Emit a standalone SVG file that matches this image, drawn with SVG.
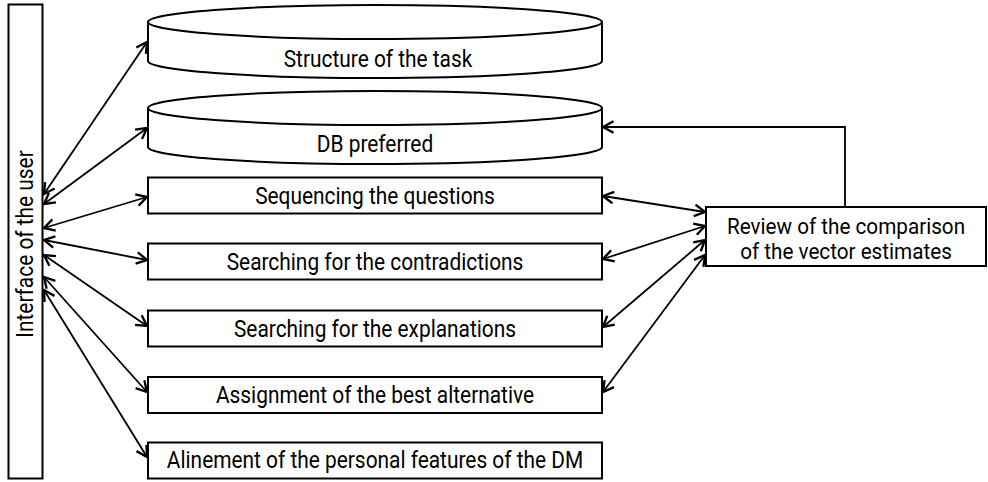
<svg xmlns="http://www.w3.org/2000/svg" width="988" height="482" viewBox="0 0 988 482">
  <style>
    .box { fill: #ffffff; stroke: #000000; stroke-width: 2; }
    .lbl { font-family: Roboto, "Liberation Sans", sans-serif; font-size: 24px; fill: #000000; text-anchor: middle; }
    .lbl2 { font-family: Roboto, "Liberation Sans", sans-serif; font-size: 22px; fill: #000000; text-anchor: middle; }
    .link { fill: none; stroke: #000000; stroke-width: 1.8; }
  </style>
  <defs>
    <marker id="arrow" markerUnits="userSpaceOnUse" markerWidth="14" markerHeight="14" refX="10" refY="6" orient="auto-start-reverse" viewBox="0 0 12 12">
      <path d="M1,1 L10,6 L1,11" fill="none" stroke="#000000" stroke-width="2"/>
    </marker>
  </defs>

  <rect width="988" height="482" fill="#ffffff"/>

  <!-- user interface column; labels are narrowed horizontally for a condensed face -->
  <g id="user-interface">
    <rect class="box" x="8.5" y="4.5" width="34" height="474"/>
    <text class="lbl" transform="translate(33,244) rotate(-90) scale(0.87,1)">Interface of the user</text>
  </g>

  <!-- data stores -->
  <g id="task-structure">
    <path class="box" d="M148,22 A227,17 0 0 1 602,22 L602,61 A227,17 0 0 1 148,61 Z"/>
    <path class="box" d="M148,22 A227,17 0 0 0 602,22" fill="none"/>
    <text class="lbl" transform="translate(378,67) scale(0.87,1)">Structure of the task</text>
  </g>
  <g id="db-preferred">
    <path class="box" d="M148,108 A227,17 0 0 1 602,108 L602,147 A227,17 0 0 1 148,147 Z"/>
    <path class="box" d="M148,108 A227,17 0 0 0 602,108" fill="none"/>
    <text class="lbl" transform="translate(375,152) scale(0.87,1)">DB preferred</text>
  </g>

  <!-- process blocks -->
  <g id="sequencing">
    <rect class="box" x="148" y="177.5" width="454" height="36"/>
    <text class="lbl" transform="translate(375,203.5) scale(0.87,1)">Sequencing the questions</text>
  </g>
  <g id="contradictions">
    <rect class="box" x="148" y="243.5" width="454" height="36"/>
    <text class="lbl" transform="translate(375,269.5) scale(0.87,1)">Searching for the contradictions</text>
  </g>
  <g id="explanations">
    <rect class="box" x="148" y="310.5" width="454" height="36"/>
    <text class="lbl" transform="translate(375,336.5) scale(0.87,1)">Searching for the explanations</text>
  </g>
  <g id="best-alternative">
    <rect class="box" x="148" y="377" width="454" height="36"/>
    <text class="lbl" transform="translate(375,403) scale(0.87,1)">Assignment of the best alternative</text>
  </g>
  <g id="personal-features">
    <rect class="box" x="148" y="442.5" width="454" height="36"/>
    <text class="lbl" transform="translate(375,468) scale(0.87,1)">Alinement of the personal features of the DM</text>
  </g>

  <g id="review">
    <rect class="box" x="706" y="207" width="280" height="59"/>
    <text class="lbl2" transform="translate(846,233.5) scale(0.94,1)"><tspan x="0" y="0">Review of the comparison</tspan><tspan x="0" y="26">of the vector estimates</tspan></text>
  </g>

  <!-- connectors -->
  <g id="connectors">
    <line class="link" x1="44" y1="194" x2="147" y2="42" marker-start="url(#arrow)" marker-end="url(#arrow)"/>
    <line class="link" x1="44" y1="204" x2="147" y2="128" marker-start="url(#arrow)" marker-end="url(#arrow)"/>
    <line class="link" x1="44" y1="228" x2="147" y2="197" marker-start="url(#arrow)" marker-end="url(#arrow)"/>
    <line class="link" x1="44" y1="240" x2="147" y2="260" marker-start="url(#arrow)" marker-end="url(#arrow)"/>
    <line class="link" x1="44" y1="255" x2="147" y2="326" marker-start="url(#arrow)" marker-end="url(#arrow)"/>
    <line class="link" x1="44" y1="277" x2="147" y2="392" marker-start="url(#arrow)" marker-end="url(#arrow)"/>
    <line class="link" x1="44" y1="290" x2="147" y2="457" marker-start="url(#arrow)" marker-end="url(#arrow)"/>

    <line class="link" x1="603" y1="196" x2="705" y2="212" marker-start="url(#arrow)" marker-end="url(#arrow)"/>
    <line class="link" x1="603" y1="259" x2="705" y2="226" marker-start="url(#arrow)" marker-end="url(#arrow)"/>
    <line class="link" x1="603" y1="327" x2="705" y2="240" marker-start="url(#arrow)" marker-end="url(#arrow)"/>
    <line class="link" x1="603" y1="392" x2="705" y2="255" marker-start="url(#arrow)" marker-end="url(#arrow)"/>

    <polyline class="link" points="845,207 845,127 603,127" marker-end="url(#arrow)"/>
  </g>
</svg>
